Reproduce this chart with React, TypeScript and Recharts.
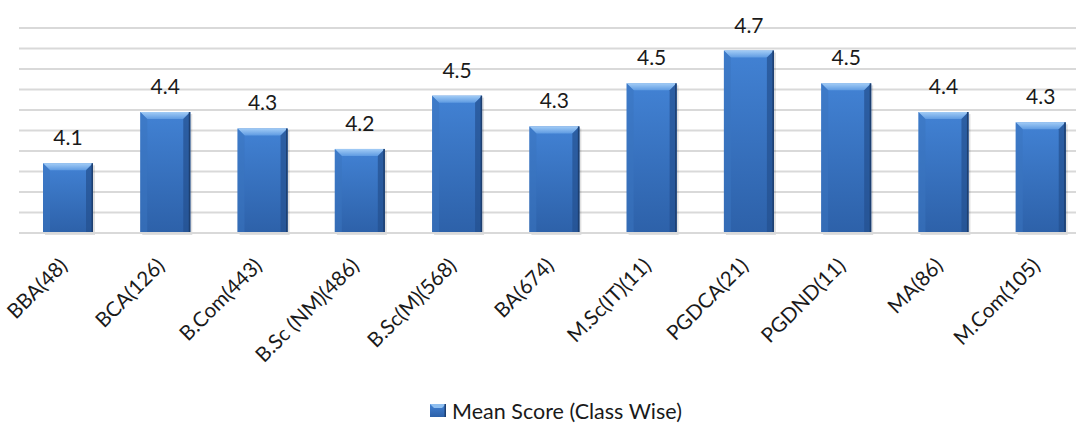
import React from 'react';
import {
  BarChart,
  Bar,
  XAxis,
  YAxis,
  CartesianGrid,
  LabelList,
  Legend
} from 'recharts';

const CLASSES = [
  'BBA(48)',
  'BCA(126)',
  'B.Com(443)',
  'B.Sc (NM)(486)',
  'B.Sc(M)(568)',
  'BA(674)',
  'M.Sc(IT)(11)',
  'PGDCA(21)',
  'PGDND(11)',
  'MA(86)',
  'M.Com(105)'
];

const MEAN_SCORES = [4.14, 4.39, 4.31, 4.21, 4.47, 4.32, 4.53, 4.69, 4.53, 4.39, 4.34];

const Y_TICKS = [3.8, 3.9, 4.0, 4.1, 4.2, 4.3, 4.4, 4.5, 4.6, 4.7, 4.8];

const SERIES_NAME = 'Mean Score (Class Wise)';

const FONT = 'Lato, "Open Sans", sans-serif';

const data = CLASSES.map((name, i) => ({ name, score: MEAN_SCORES[i] }));

// bevelled bar like the office chart style
const BevelBar = (props: any) => {
  const { x, y, width, height } = props;
  if (!height || height <= 0) return null;
  const b = 7;
  return (
    <g>
      <rect x={x + 2} y={y + 2} width={width} height={height} fill="#000" opacity={0.12} />
      <rect x={x} y={y} width={width} height={height} fill="url(#barBody)" />
      <polygon
        points={`${x},${y} ${x + width},${y} ${x + width - b},${y + b} ${x + b},${y + b}`}
        fill="url(#barTop)"
      />
      <polygon
        points={`${x},${y} ${x + b},${y + b} ${x + b},${y + height} ${x},${y + height}`}
        fill="#3a74c0"
        opacity={0.55}
      />
      <polygon
        points={`${x + width},${y} ${x + width - b},${y + b} ${x + width - b},${y + height} ${x + width},${y + height}`}
        fill="#24508e"
        opacity={0.7}
      />
      <rect x={x + width - 1.5} y={y} width={1.5} height={height} fill="#1d3f70" />
    </g>
  );
};

const ClassTick = (props: any) => {
  const { x, y, payload } = props;
  return (
    <g transform={`translate(${x + 1},${y + 32})`}>
      <text
        x={0}
        y={0}
        textAnchor="end"
        transform="rotate(-45)"
        fontSize={20.5}
        fontFamily={FONT}
        fill="#1a1a1a"
      >
        {payload.value}
      </text>
    </g>
  );
};

const LegendBox = () => (
  <div
    style={{
      display: 'flex',
      justifyContent: 'center',
      alignItems: 'center',
      fontFamily: FONT,
      fontSize: 21.5,
      lineHeight: '26px',
      color: '#1a1a1a',
      paddingLeft: 4,
      paddingTop: 3
    }}
  >
    <svg width={18} height={14} style={{ marginRight: 4 }}>
      <rect x={0} y={0} width={16} height={13} fill="url(#barBody)" />
      <polygon points="0,0 16,0 12,4 4,4" fill="#8fbff0" />
      <rect x={14.5} y={0} width={1.5} height={13} fill="#1d3f70" />
    </svg>
    <span>{SERIES_NAME}</span>
  </div>
);

export default function App() {
  return (
    <div
      style={{
        position: 'fixed',
        top: 0,
        left: 0,
        width: 1076,
        height: 423,
        overflow: 'hidden',
        background: '#ffffff'
      }}
    >
      <BarChart
        width={1090}
        height={423}
        data={data}
        margin={{ top: 28, right: 1, left: 19, bottom: 0 }}
      >
        <defs>
          <linearGradient id="barBody" x1="0" y1="0" x2="0" y2="1">
            <stop offset="0%" stopColor="#4282d4" />
            <stop offset="100%" stopColor="#2d61a9" />
          </linearGradient>
          <linearGradient id="barTop" x1="0" y1="0" x2="0" y2="1">
            <stop offset="0%" stopColor="#a2ccf6" />
            <stop offset="100%" stopColor="#5f9be2" />
          </linearGradient>
        </defs>
        <CartesianGrid vertical={false} stroke="#d9d9d9" strokeWidth={2} />
        <YAxis hide domain={[3.8, 4.8]} ticks={Y_TICKS} interval={0} />
        <XAxis
          dataKey="name"
          interval={0}
          tickLine={false}
          tickSize={0}
          height={162}
          axisLine={{ stroke: '#d9d9d9', strokeWidth: 2 }}
          tick={<ClassTick />}
        />
        <Legend verticalAlign="bottom" height={28} content={<LegendBox />} />
        <Bar
          dataKey="score"
          name={SERIES_NAME}
          barSize={50}
          shape={<BevelBar />}
          isAnimationActive={false}
        >
          <LabelList
            dataKey="score"
            position="top"
            offset={18}
            formatter={(v: any) => Number(v).toFixed(1)}
            fontSize={21}
            fontFamily={FONT}
            fill="#1a1a1a"
          />
        </Bar>
      </BarChart>
    </div>
  );
}
